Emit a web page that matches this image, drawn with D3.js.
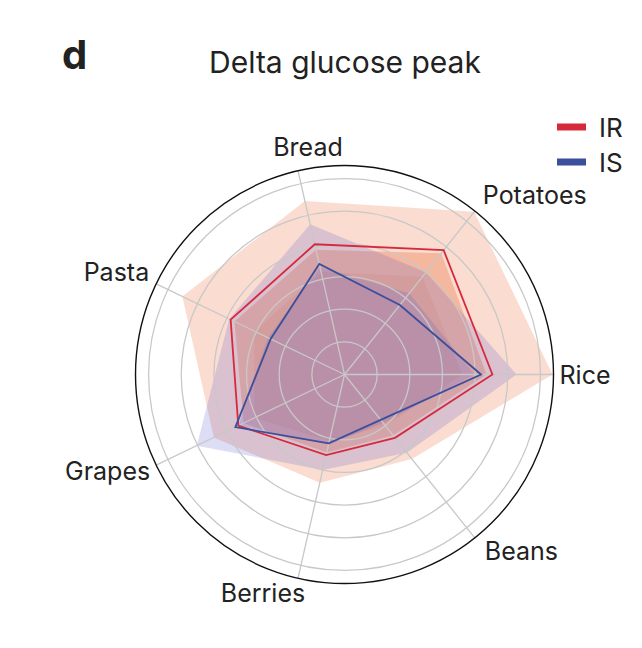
<!DOCTYPE html>
<html>
<head>
<meta charset="utf-8">
<script src="https://cdn.jsdelivr.net/npm/d3@7"></script>
<style>
body { margin: 0; background: white; }
text { font-family: Inter, "Liberation Sans", sans-serif; fill: #222; }
</style>
</head>
<body>
<script>

// foods, counter-clockwise starting at 3 o'clock
const foods = ["Rice", "Potatoes", "Bread", "Pasta", "Grapes", "Berries", "Beans"];

// median delta glucose peak per group
const irMedian = [45.3, 48.7, 40.9, 38.7, 36.1, 25.3, 24.8];
const isMedian = [41.8, 27.2, 34.7, 25.1, 37.1, 21.6, 17.8];

// shaded spread for IR (outer to inner)
const irUpper = [63.7, 63.7, 54.5, 55.1, 44.4, 34.0, 33.1];
const irMid   = [43.5, 47.5, 39.2, 37.4, 34.3, 24.5, 23.9];
const irLower = [36.1, 38.3, 32.2, 30.6, 30.6, 20.8, 20.2];

// shaded spread for IS
const isUpper = [52.7, 40.0, 47.2, 39.2, 50.2, 30.0, 30.6];
const isMid   = [39.8, 31.8, 33.7, 26.0, 36.1, 22.0, 19.0];

const gridTicks = [10, 20, 30, 40, 50, 60];
const rMax = 64;

const groups = ["IR", "IS"];
const groupColors = {IR: "#d62a3c", IS: "#3b4f9b"};

const W = 642, H = 648;
const cx = 344.5, cy = 374.5, R = 209;

const svg = d3.select("body").append("svg")
    .attr("width", W).attr("height", H);

const g = svg.append("g").attr("transform", `translate(${cx}, ${cy})`);

const n = foods.length;
// d3 radial angles run clockwise from 12 o'clock
const angle = d3.scaleLinear().domain([0, n]).range([Math.PI / 2, Math.PI / 2 - 2 * Math.PI]);
const r = d3.scaleLinear().domain([0, rMax]).range([0, R]);

const radar = d3.lineRadial()
    .angle((d, i) => angle(i))
    .radius(d => r(d))
    .curve(d3.curveLinearClosed);

// IR shading
const irFill = "#ef8a62";
g.append("path").attr("d", radar(irUpper)).attr("fill", irFill).attr("fill-opacity", 0.3);
g.append("path").attr("d", radar(irMid)).attr("fill", irFill).attr("fill-opacity", 0.45);
g.append("path").attr("d", radar(irLower)).attr("fill", irFill).attr("fill-opacity", 0.25);

// IS shading
const isFill = "#6464d2";
g.append("path").attr("d", radar(isUpper)).attr("fill", isFill).attr("fill-opacity", 0.22);
g.append("path").attr("d", radar(isMid)).attr("fill", isFill).attr("fill-opacity", 0.22);

// grid above the shading
g.selectAll(".ring").data(gridTicks).join("circle")
  .attr("r", d => r(d))
  .attr("fill", "none")
  .attr("stroke", "#c8c8c8")
  .attr("stroke-width", 1.3);

g.selectAll(".spoke").data(foods).join("line")
  .attr("x1", 0).attr("y1", 0)
  .attr("x2", (d, i) => r(rMax) * Math.sin(angle(i)))
  .attr("y2", (d, i) => -r(rMax) * Math.cos(angle(i)))
  .attr("stroke", "#c8c8c8")
  .attr("stroke-width", 1.3);

g.append("circle").attr("r", r(rMax))
  .attr("fill", "none").attr("stroke", "#111").attr("stroke-width", 1.4);

// medians
g.append("path").attr("d", radar(irMedian))
  .attr("fill", "none").attr("stroke", groupColors.IR).attr("stroke-width", 1.8);
g.append("path").attr("d", radar(isMedian))
  .attr("fill", "none").attr("stroke", groupColors.IS).attr("stroke-width", 1.8);

// food labels, nudged off the spoke ends
const labelPos = [
  {anchor: "start",  dx: 6,   dy: 0},
  {anchor: "start",  dx: 8,   dy: -16},
  {anchor: "middle", dx: 10,  dy: -24},
  {anchor: "end",    dx: -7,  dy: -12},
  {anchor: "end",    dx: -6,  dy: 6},
  {anchor: "middle", dx: -35, dy: 15},
  {anchor: "start",  dx: 10,  dy: 13}
];
g.selectAll(".lab").data(foods).join("text")
  .attr("x", (d, i) => r(rMax) * Math.sin(angle(i)) + labelPos[i].dx)
  .attr("y", (d, i) => -r(rMax) * Math.cos(angle(i)) + labelPos[i].dy)
  .attr("text-anchor", (d, i) => labelPos[i].anchor)
  .attr("dominant-baseline", "central")
  .attr("font-size", 25)
  .text(d => d);

// title and panel letter
svg.append("text").attr("x", 345).attr("y", 62)
  .attr("text-anchor", "middle").attr("dominant-baseline", "central")
  .attr("font-size", 30).text("Delta glucose peak");
svg.append("text").attr("x", 62).attr("y", 69)
  .attr("font-size", 40).attr("font-weight", "bold").attr("fill", "#111").text("d");

// legend
const legend = svg.append("g").attr("transform", "translate(557, 127)");
groups.forEach((k, i) => {
  const row = legend.append("g").attr("transform", `translate(0, ${i * 35})`);
  row.append("rect").attr("x", 0).attr("y", -3.5).attr("width", 29).attr("height", 7)
    .attr("fill", groupColors[k]);
  row.append("text").attr("x", 42).attr("y", 0)
    .attr("dominant-baseline", "central").attr("font-size", 26).text(k);
});

</script>
</body>
</html>
